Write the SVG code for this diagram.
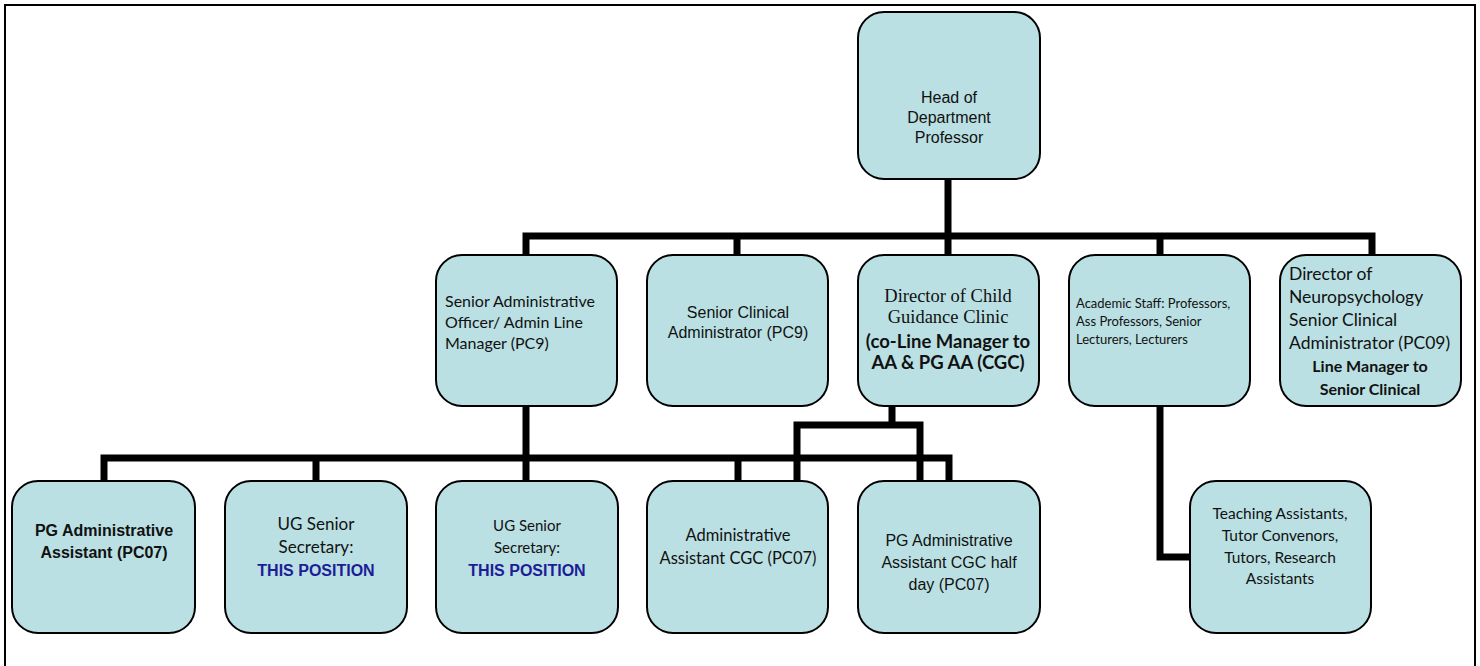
<svg xmlns="http://www.w3.org/2000/svg" width="1480" height="666" viewBox="0 0 1480 666">
<style>
.box{fill:#bae0e3;stroke:#000;stroke-width:2}
.ln{fill:none;stroke:#000;stroke-width:7;stroke-linejoin:miter;stroke-linecap:butt}
.ar{font-family:"Liberation Sans",Arial,sans-serif;font-size:16px;fill:#111}
.cb{font-family:Lato,"Liberation Sans",sans-serif;fill:#111}
.tm{font-family:"Liberation Serif","Times New Roman",serif;font-size:18.5px;fill:#111}
.b{font-weight:bold}
.blue{fill:#1d1d96}
.c{text-anchor:middle}
</style>
<rect x="5" y="5" width="1470" height="670" fill="none" stroke="#000" stroke-width="2"/>
<g id="connectors">
<path class="ln" d="M948 179V255M526 255V236H1372V255M737 236V255M1160 236V255"/>
<path class="ln" d="M526 406V458M104 481V458H949V481M316 458V481M526 458V481M738 458V481"/>
<path class="ln" d="M892 406V425M797 481V425H920V481"/>
<path class="ln" d="M1160 406V557H1190"/>
</g>
<g id="head"><rect class="box" x="858" y="12" width="182" height="167" rx="26"/>
<text class="ar c" x="949"><tspan x="949" y="103">Head of</tspan><tspan x="949" y="123">Department</tspan><tspan x="949" y="143">Professor</tspan></text></g>
<g id="sao"><rect class="box" x="436" y="255" width="181" height="151" rx="26"/>
<text class="cb" font-size="16"><tspan x="445" y="307">Senior Administrative</tspan><tspan x="445" y="328">Officer/ Admin Line</tspan><tspan x="445" y="349">Manager (PC9)</tspan></text></g>
<g id="sca"><rect class="box" x="647" y="255" width="181" height="151" rx="26"/>
<text class="ar c" font-size="18"><tspan x="738" y="318">Senior Clinical</tspan><tspan x="738" y="338">Administrator (PC9)</tspan></text></g>
<g id="dcgc"><rect class="box" x="858" y="255" width="181" height="151" rx="26"/>
<text class="tm c"><tspan x="948" y="302">Director of Child</tspan><tspan x="948" y="323">Guidance Clinic</tspan></text>
<text class="cb b c" font-size="18.5"><tspan x="948" y="348">(co-Line Manager to</tspan><tspan x="948" y="369">AA &amp; PG AA (CGC)</tspan></text></g>
<g id="acad"><rect class="box" x="1069" y="255" width="181" height="151" rx="26"/>
<text class="cb" font-size="13"><tspan x="1076" y="308">Academic Staff: Professors,</tspan><tspan x="1076" y="326">Ass Professors, Senior</tspan><tspan x="1076" y="344">Lecturers, Lecturers</tspan></text></g>
<g id="dnp"><rect class="box" x="1280" y="255" width="181" height="151" rx="26"/>
<text class="cb" font-size="17.5"><tspan x="1289" y="280">Director of</tspan><tspan x="1289" y="303">Neuropsychology</tspan><tspan x="1289" y="326">Senior Clinical</tspan><tspan x="1289" y="349">Administrator (PC09)</tspan></text>
<text class="cb b c" font-size="16"><tspan x="1370" y="372">Line Manager to</tspan><tspan x="1370" y="395">Senior Clinical</tspan></text></g>
<g id="pgaa"><rect class="box" x="12" y="481" width="183" height="152" rx="26"/>
<text class="ar b c" font-size="16"><tspan x="104" y="536">PG Administrative</tspan><tspan x="104" y="558">Assistant (PC07)</tspan></text></g>
<g id="ugss1"><rect class="box" x="225" y="481" width="182" height="152" rx="26"/>
<text class="cb c" font-size="17"><tspan x="316" y="530">UG Senior</tspan><tspan x="316" y="553">Secretary:</tspan></text>
<text class="ar b c blue" font-size="15" x="316" y="576">THIS POSITION</text></g>
<g id="ugss2"><rect class="box" x="436" y="481" width="182" height="152" rx="26"/>
<text class="cb c" font-size="15"><tspan x="527" y="531">UG Senior</tspan><tspan x="527" y="553">Secretary:</tspan></text>
<text class="ar b c blue" font-size="16" x="527" y="576">THIS POSITION</text></g>
<g id="aacgc"><rect class="box" x="647" y="481" width="181" height="152" rx="26"/>
<text class="cb c" font-size="16.5"><tspan x="738" y="541">Administrative</tspan><tspan x="738" y="564">Assistant CGC (PC07)</tspan></text></g>
<g id="pgaacgc"><rect class="box" x="858" y="481" width="182" height="152" rx="26"/>
<text class="ar c"><tspan x="949" y="546">PG Administrative</tspan><tspan x="949" y="568">Assistant CGC half</tspan><tspan x="949" y="590">day (PC07)</tspan></text></g>
<g id="ta"><rect class="box" x="1190" y="481" width="181" height="152" rx="26"/>
<text class="cb c" font-size="15.5"><tspan x="1280" y="519">Teaching Assistants,</tspan><tspan x="1280" y="541">Tutor Convenors,</tspan><tspan x="1280" y="563">Tutors, Research</tspan><tspan x="1280" y="584">Assistants</tspan></text></g>
</svg>
